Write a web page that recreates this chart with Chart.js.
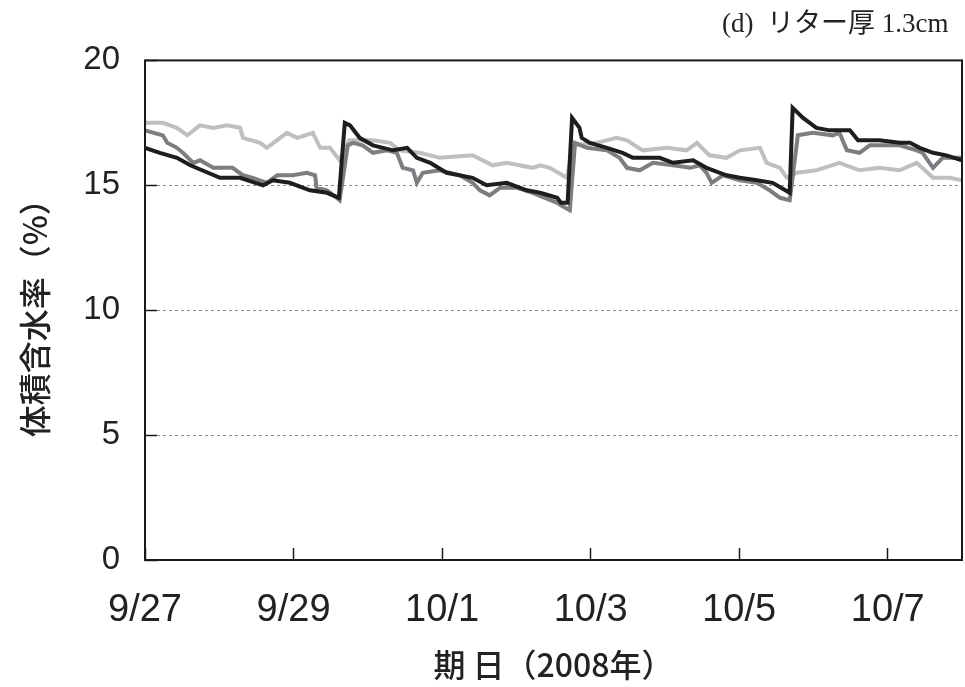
<!DOCTYPE html>
<html lang="ja">
<head>
    <meta charset="UTF-8">
    <title>体積含水率</title>
    <script src="https://cdn.jsdelivr.net/npm/chart.js"></script>
    <style>
        html, body { margin: 0; padding: 0; background: #fff; }
        #wrap { width: 965px; height: 687px; }
    </style>
</head>
<body>
    <div id="wrap"><canvas id="grafico"></canvas></div>

    <script>
        // x = days since 9/27 0:00, y = volumetric water content (%)
        const tickDays = [0, 2, 4, 6, 8, 10];
        const tickLabels = ['9/27', '9/29', '10/1', '10/3', '10/5', '10/7'];

        const serieEscura = [
            [0, 16.5], [0.2, 16.3], [0.43, 16.1], [0.61, 15.8], [1.01, 15.3], [1.28, 15.3], [1.59, 15.0],
            [1.72, 15.2], [1.95, 15.1], [2.22, 14.8], [2.45, 14.7], [2.61, 14.5], [2.69, 17.5], [2.76, 17.4],
            [2.89, 16.9], [3.07, 16.6], [3.34, 16.4], [3.53, 16.5], [3.66, 16.1], [3.84, 15.9], [4.06, 15.5],
            [4.41, 15.3], [4.6, 15.0], [4.87, 15.1], [5.14, 14.8], [5.32, 14.7], [5.55, 14.5], [5.6, 14.3],
            [5.69, 14.3], [5.75, 17.7], [5.85, 17.3], [5.88, 16.9], [5.99, 16.7], [6.22, 16.5], [6.43, 16.3],
            [6.57, 16.1], [6.93, 16.1], [7.11, 15.9], [7.38, 16.0], [7.56, 15.7], [7.83, 15.4], [8.01, 15.3],
            [8.24, 15.2], [8.45, 15.1], [8.68, 14.7], [8.72, 18.1], [8.86, 17.7], [9.04, 17.3], [9.22, 17.2],
            [9.49, 17.2], [9.6, 16.8], [9.89, 16.8], [10.16, 16.7], [10.3, 16.7], [10.43, 16.5], [10.61, 16.3],
            [10.79, 16.2], [11.0, 16.0]
        ];

        const serieMedia = [
            [0, 17.2], [0.24, 17.0], [0.3, 16.7], [0.43, 16.5], [0.51, 16.3], [0.65, 15.9], [0.74, 16.0],
            [0.92, 15.7], [1.18, 15.7], [1.32, 15.4], [1.45, 15.3], [1.64, 15.1], [1.78, 15.4], [1.99, 15.4],
            [2.18, 15.5], [2.29, 15.4], [2.31, 14.9], [2.45, 14.8], [2.58, 14.5], [2.62, 14.4], [2.73, 16.6],
            [2.8, 16.7], [2.93, 16.6], [3.07, 16.3], [3.26, 16.4], [3.39, 16.3], [3.47, 15.7], [3.61, 15.6],
            [3.66, 15.1], [3.74, 15.5], [3.97, 15.6], [4.24, 15.4], [4.41, 15.1], [4.51, 14.8], [4.64, 14.6],
            [4.78, 14.9], [5.01, 14.9], [5.22, 14.7], [5.55, 14.3], [5.6, 14.2], [5.72, 14.0], [5.79, 16.7],
            [5.95, 16.5], [6.22, 16.4], [6.39, 16.1], [6.49, 15.7], [6.66, 15.6], [6.84, 15.9], [7.11, 15.8],
            [7.34, 15.7], [7.47, 15.8], [7.56, 15.5], [7.63, 15.1], [7.78, 15.4], [8.01, 15.2], [8.24, 15.1],
            [8.41, 14.8], [8.55, 14.5], [8.68, 14.4], [8.79, 17.0], [8.99, 17.1], [9.26, 17.0], [9.35, 17.1],
            [9.45, 16.4], [9.62, 16.3], [9.76, 16.6], [10.16, 16.6], [10.39, 16.4], [10.47, 16.3], [10.61, 15.7],
            [10.74, 16.1], [11.0, 16.1]
        ];

        const serieClara = [
            [0, 17.5], [0.24, 17.5], [0.43, 17.3], [0.57, 17.0], [0.74, 17.4], [0.92, 17.3], [1.1, 17.4],
            [1.28, 17.3], [1.32, 16.9], [1.55, 16.7], [1.64, 16.5], [1.82, 16.9], [1.91, 17.1], [2.05, 16.9],
            [2.26, 17.1], [2.36, 16.5], [2.49, 16.5], [2.62, 16.0], [2.75, 16.8], [3.07, 16.8], [3.3, 16.7],
            [3.43, 16.4], [3.7, 16.3], [3.97, 16.1], [4.41, 16.2], [4.68, 15.8], [4.87, 15.9], [5.22, 15.7],
            [5.32, 15.8], [5.45, 15.7], [5.68, 15.3], [5.76, 16.6], [6.08, 16.7], [6.35, 16.9], [6.49, 16.8],
            [6.7, 16.4], [7.03, 16.5], [7.29, 16.4], [7.43, 16.7], [7.6, 16.2], [7.83, 16.1], [8.01, 16.4],
            [8.28, 16.5], [8.37, 15.9], [8.55, 15.7], [8.64, 15.3], [8.78, 15.5], [9.04, 15.6], [9.35, 15.9],
            [9.62, 15.6], [9.89, 15.7], [10.16, 15.6], [10.39, 15.9], [10.61, 15.3], [10.83, 15.3], [11.0, 15.2]
        ];

        const pontos = s => s.map(p => ({ x: p[0], y: p[1] }));
        const fonteNum = "'Liberation Sans', Arial, sans-serif";
        const fonteJp = "'Noto Sans CJK JP', 'Liberation Sans', sans-serif";

        // moldura preta em volta da área do gráfico
        const moldura = {
            id: 'moldura',
            afterDatasetsDraw(chart) {
                const a = chart.chartArea, c = chart.ctx;
                c.save();
                c.strokeStyle = '#1a1a1a';
                c.lineWidth = 2;
                c.strokeRect(a.left, a.top, a.right - a.left, a.bottom - a.top);
                c.restore();
            }
        };

        const ctx = document.getElementById('grafico').getContext('2d');
        new Chart(ctx, {
            type: 'line',
            data: {
                datasets: [
                    { data: pontos(serieEscura), borderColor: '#1e1e1e', borderWidth: 4 },
                    { data: pontos(serieMedia), borderColor: '#7c7e82', borderWidth: 4 },
                    { data: pontos(serieClara), borderColor: '#bfbfbf', borderWidth: 4 }
                ]
            },
            options: {
                responsive: true,
                maintainAspectRatio: false,
                animation: false,
                layout: { padding: { left: 0, right: 3, top: 0, bottom: 0 } },
                elements: { point: { radius: 0 }, line: { tension: 0 } },
                plugins: {
                    legend: { display: false },
                    tooltip: { enabled: false },
                    title: {
                        display: true,
                        text: '(d)  リター厚 1.3cm  ',
                        align: 'end',
                        color: '#222',
                        font: { family: "'Liberation Serif', 'Noto Sans CJK JP', serif", size: 27, weight: 'normal' },
                        padding: { top: 9, bottom: 19 }
                    }
                },
                scales: {
                    x: {
                        type: 'linear',
                        min: 0,
                        max: 11,
                        afterBuildTicks: s => { s.ticks = tickDays.map(v => ({ value: v })); },
                        afterFit: s => { s.height = 127; },
                        grid: { color: 'rgba(0,0,0,0)', drawTicks: true, tickLength: -12, tickColor: '#1a1a1a', tickWidth: 1.5 },
                        border: { display: false },
                        ticks: {
                            padding: 40,
                            color: '#222',
                            font: { family: fonteNum, size: 38 },
                            callback: v => tickLabels[tickDays.indexOf(v)]
                        },
                        title: {
                            display: true,
                            text: '期 日（2008年）',
                            color: '#222',
                            font: { family: fonteJp, size: 32, weight: 500 },
                            padding: { top: 0, bottom: 3 }
                        }
                    },
                    y: {
                        min: 0,
                        max: 20,
                        afterFit: s => { s.width = 145; },
                        ticks: {
                            stepSize: 5,
                            padding: 37,
                            color: '#222',
                            font: { family: fonteNum, size: 33 }
                        },
                        grid: {
                            color: c => (c.tick && c.tick.value > 0 && c.tick.value < 20) ? '#8a8a8a' : 'rgba(0,0,0,0)',
                            lineWidth: 1,
                            drawTicks: true,
                            tickLength: -12,
                            tickColor: '#1a1a1a',
                            tickWidth: 1.5,
                            tickBorderDash: []
                        },
                        border: { display: false, dash: [3, 3] },
                        title: {
                            display: true,
                            text: '体積含水率（%）',
                            color: '#222',
                            font: { family: fonteJp, size: 32, weight: 500 },
                            padding: { top: 16, bottom: 0 }
                        }
                    }
                }
            },
            plugins: [moldura]
        });
    </script>
</body>
</html>
